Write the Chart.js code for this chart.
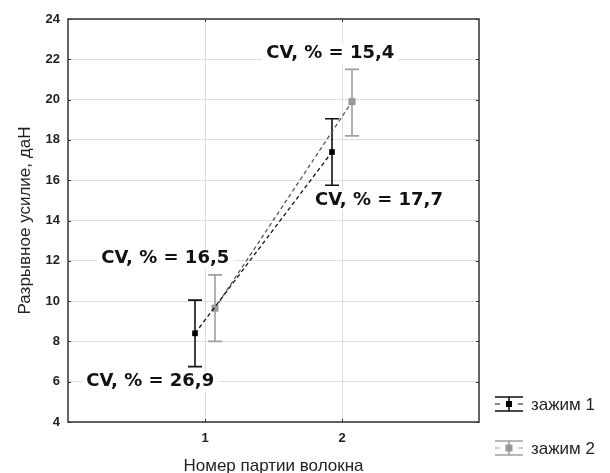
<!DOCTYPE html>
<html>
<head>
<meta charset="utf-8">
<script src="https://cdn.jsdelivr.net/npm/chart.js@4"></script>
<style>
  html, body { margin: 0; padding: 0; background: #fff; }
  #wrap { width: 610px; height: 473px; }
</style>
</head>
<body>
<div id="wrap"><canvas id="c" width="610" height="473"></canvas></div>
<script>
// ---- data ----
const categories = [1, 2];
const xTickLabels = ['1', '2'];
const yTickValues = [4, 6, 8, 10, 12, 14, 16, 18, 20, 22, 24];
const seriesNames = ['зажим 1', 'зажим 2'];
const mean1 = [8.4, 17.4];
const lower1 = [6.75, 15.75];
const upper1 = [10.05, 19.05];
const mean2 = [9.65, 19.9];
const lower2 = [8.0, 18.2];
const upper2 = [11.3, 21.5];
const cvTexts = ['CV, % = 26,9', 'CV, % = 16,5', 'CV, % = 17,7', 'CV, % = 15,4'];
const cvX = [0.6, 0.71, 2.27, 1.915];
const cvY = [6.0, 12.1, 15.0, 22.3];

const dodge = [-0.073, 0.073];
const FONT = "'Liberation Sans', Arial, sans-serif";
Chart.defaults.font.family = FONT;

function pts(mean, k) {
  return categories.map((c, i) => ({ x: c + dodge[k], y: mean[i] }));
}

const errData = [
  { lower: lower1, upper: upper1, color: '#111111' },
  { lower: lower2, upper: upper2, color: '#a0a0a0' }
];

const errorBarPlugin = {
  id: 'errbars',
  beforeDatasetsDraw(chart) {
    const ctx = chart.ctx;
    const xs = chart.scales.x, ys = chart.scales.y;
    ctx.save();
    chart.data.datasets.forEach((ds, k) => {
      const e = errData[k];
      ctx.strokeStyle = e.color;
      ctx.lineWidth = 1.6;
      ds.data.forEach((p, i) => {
        const x = xs.getPixelForValue(p.x);
        const yl = ys.getPixelForValue(e.lower[i]);
        const yu = ys.getPixelForValue(e.upper[i]);
        ctx.beginPath();
        ctx.moveTo(x, yl); ctx.lineTo(x, yu);
        ctx.moveTo(x - 7, yl); ctx.lineTo(x + 7, yl);
        ctx.moveTo(x - 7, yu); ctx.lineTo(x + 7, yu);
        ctx.stroke();
      });
    });
    ctx.restore();
  }
};

const framePlugin = {
  id: 'frame',
  afterDraw(chart) {
    const ctx = chart.ctx;
    const a = chart.chartArea;
    const xs = chart.scales.x, ys = chart.scales.y;
    ctx.save();
    // CV annotations
    ctx.font = "bold 18px 'DejaVu Sans', Verdana, sans-serif";
    ctx.textAlign = 'center';
    ctx.textBaseline = 'middle';
    cvTexts.forEach((t, i) => {
      const x = xs.getPixelForValue(cvX[i]);
      const y = ys.getPixelForValue(cvY[i]);
      const w = ctx.measureText(t).width;
      ctx.fillStyle = '#ffffff';
      ctx.fillRect(x - w / 2 - 4, y - 10, w + 8, 20);
      ctx.fillStyle = '#111111';
      ctx.fillText(t, x, y);
    });
    // frame
    ctx.strokeStyle = '#333333';
    ctx.lineWidth = 1.5;
    ctx.strokeRect(a.left, a.top, a.right - a.left, a.bottom - a.top);
    // small inward ticks
    ctx.lineWidth = 1;
    ctx.beginPath();
    categories.forEach(c => {
      const x = Math.round(xs.getPixelForValue(c)) + 0.5;
      ctx.moveTo(x, a.bottom); ctx.lineTo(x, a.bottom - 3);
      ctx.moveTo(x, a.top); ctx.lineTo(x, a.top + 3);
    });
    yTickValues.forEach(v => {
      const y = Math.round(ys.getPixelForValue(v)) + 0.5;
      ctx.moveTo(a.left, y); ctx.lineTo(a.left + 3, y);
      ctx.moveTo(a.right, y); ctx.lineTo(a.right - 3, y);
    });
    ctx.stroke();
    // legend
    const lx = a.right + 16;
    const rows = [a.bottom - 18, a.bottom + 26];
    chart.data.datasets.forEach((ds, k) => {
      const cy = rows[k];
      const col = errData[k].color;
      ctx.strokeStyle = col;
      ctx.lineWidth = 1.6;
      ctx.beginPath();
      ctx.moveTo(lx, cy - 7); ctx.lineTo(lx + 28, cy - 7);
      ctx.moveTo(lx, cy + 7); ctx.lineTo(lx + 28, cy + 7);
      ctx.moveTo(lx + 14, cy - 7); ctx.lineTo(lx + 14, cy + 7);
      ctx.stroke();
      ctx.lineWidth = 1;
      ctx.beginPath();
      ctx.moveTo(lx, cy); ctx.lineTo(lx + 5, cy);
      ctx.moveTo(lx + 23, cy); ctx.lineTo(lx + 28, cy);
      ctx.stroke();
      ctx.fillStyle = ds.pointBackgroundColor;
      const s = k === 0 ? 3 : 3.5;
      ctx.fillRect(lx + 14 - s, cy - s, 2 * s, 2 * s);
      ctx.fillStyle = '#222222';
      ctx.font = '17px ' + FONT;
      ctx.textAlign = 'left';
      ctx.textBaseline = 'middle';
      ctx.fillText(ds.label, lx + 36, cy + 1);
    });
    ctx.restore();
  }
};

new Chart(document.getElementById('c'), {
  type: 'scatter',
  data: {
    datasets: [
      {
        label: seriesNames[0],
        data: pts(mean1, 0),
        showLine: true,
        borderColor: '#111111',
        borderWidth: 1.3,
        borderDash: [4, 3],
        pointStyle: 'rect',
        pointRadius: 4,
        pointBackgroundColor: '#000000',
        pointBorderWidth: 0
      },
      {
        label: seriesNames[1],
        data: pts(mean2, 1),
        showLine: true,
        borderColor: '#555555',
        borderWidth: 1.3,
        borderDash: [4, 3],
        pointStyle: 'rect',
        pointRadius: 5,
        pointBackgroundColor: '#999999',
        pointBorderWidth: 0
      }
    ]
  },
  options: {
    responsive: false,
    animation: false,
    layout: { padding: { left: 0, right: 131, top: 19, bottom: 0 } },
    plugins: { legend: { display: false }, tooltip: { enabled: false } },
    scales: {
      x: {
        type: 'linear',
        min: 0,
        max: 3,
        afterBuildTicks(scale) {
          scale.ticks = categories.map(v => ({ value: v }));
        },
        afterFit(scale) { scale.height = 51; },
        ticks: {
          padding: 9,
          color: '#222',
          font: { size: 13, weight: 'bold' },
          callback(v) {
            const i = categories.indexOf(v);
            return i >= 0 ? xTickLabels[i] : '';
          }
        },
        grid: { color: '#dddddd', lineWidth: 1, drawTicks: false },
        border: { display: false },
        title: {
          display: true,
          text: 'Номер партии волокна',
          color: '#222',
          font: { size: 17 },
          padding: { top: 0, bottom: -4 }
        }
      },
      y: {
        min: 4,
        max: 24,
        afterBuildTicks(scale) {
          scale.ticks = yTickValues.map(v => ({ value: v }));
        },
        afterFit(scale) { scale.width = 68; },
        ticks: {
          padding: 8,
          color: '#222',
          font: { size: 13, weight: 'bold' }
        },
        grid: { color: '#dddddd', lineWidth: 1, drawTicks: false },
        border: { display: false },
        title: {
          display: true,
          text: 'Разрывное усилие, даН',
          color: '#222',
          font: { size: 17 },
          padding: { top: 15, bottom: 0 }
        }
      }
    }
  },
  plugins: [errorBarPlugin, framePlugin]
});
</script>
</body>
</html>
